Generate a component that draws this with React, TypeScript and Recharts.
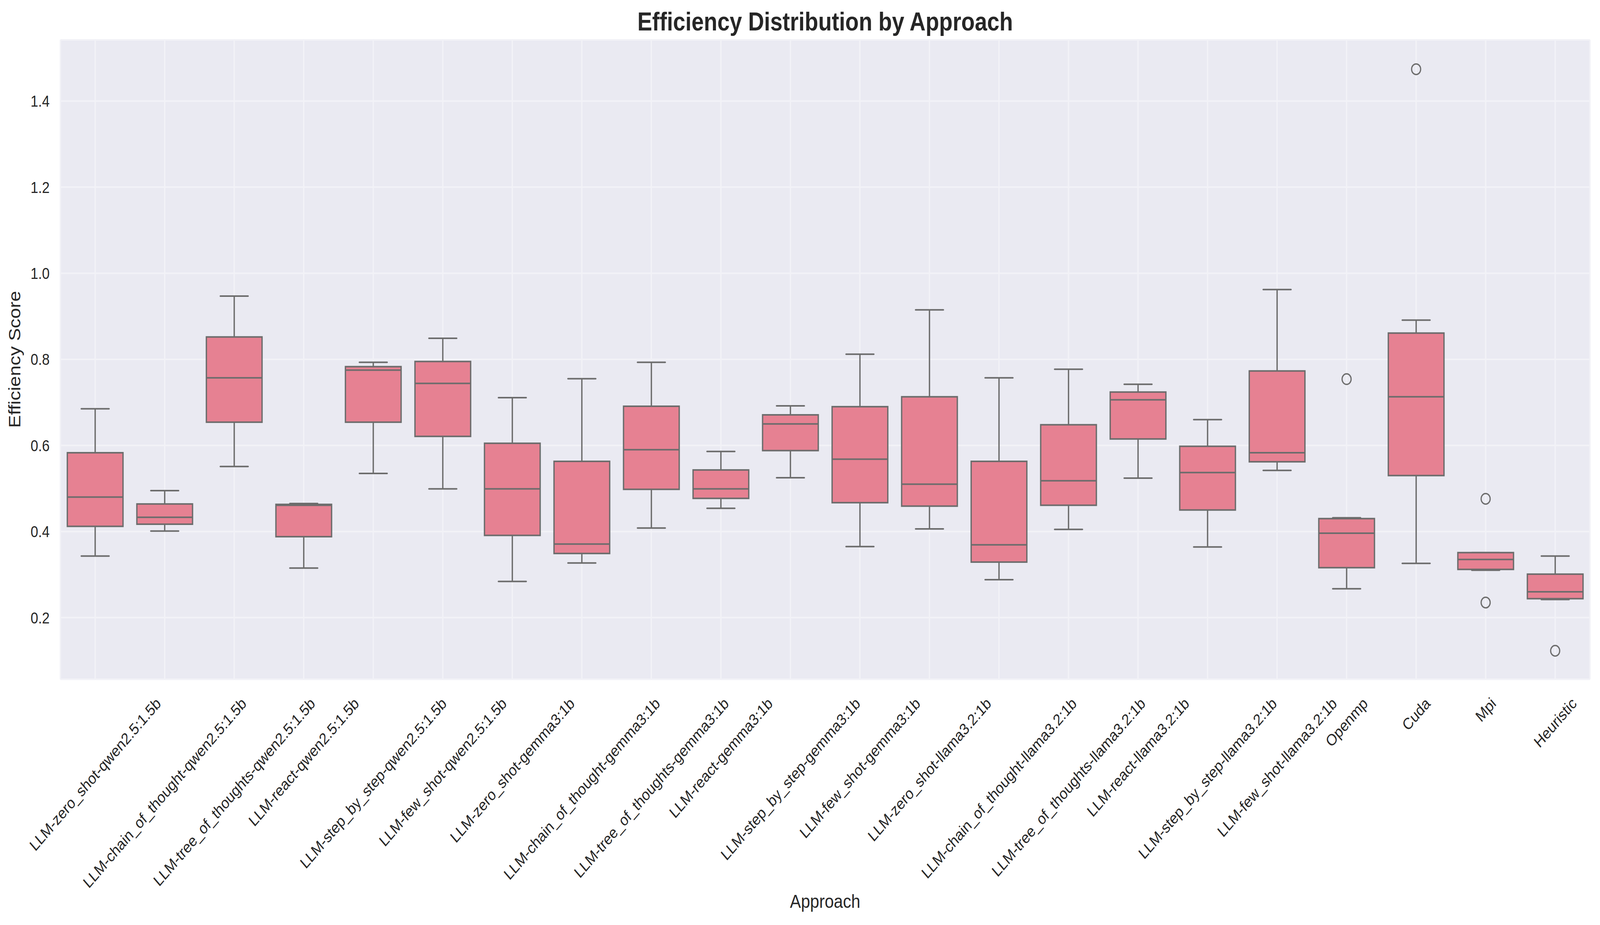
import React from "react";
import { ComposedChart, Bar, Scatter, XAxis, YAxis, CartesianGrid } from "recharts";

const W = 4770;
const H = 2368;
const FONT = '"Liberation Sans", Arial, sans-serif';
const TEXT = "#262626";
const BOX_FILL = "#e68192";
const LINE = "#6c6c6c";

const approaches = [
  "LLM-zero_shot-qwen2.5:1.5b",
  "LLM-chain_of_thought-qwen2.5:1.5b",
  "LLM-tree_of_thoughts-qwen2.5:1.5b",
  "LLM-react-qwen2.5:1.5b",
  "LLM-step_by_step-qwen2.5:1.5b",
  "LLM-few_shot-qwen2.5:1.5b",
  "LLM-zero_shot-gemma3:1b",
  "LLM-chain_of_thought-gemma3:1b",
  "LLM-tree_of_thoughts-gemma3:1b",
  "LLM-react-gemma3:1b",
  "LLM-step_by_step-gemma3:1b",
  "LLM-few_shot-gemma3:1b",
  "LLM-zero_shot-llama3.2:1b",
  "LLM-chain_of_thought-llama3.2:1b",
  "LLM-tree_of_thoughts-llama3.2:1b",
  "LLM-react-llama3.2:1b",
  "LLM-step_by_step-llama3.2:1b",
  "LLM-few_shot-llama3.2:1b",
  "Openmp",
  "Cuda",
  "Mpi",
  "Heuristic",
];

const whiskerLow = [0.343, 0.401, 0.551, 0.315, 0.535, 0.499, 0.284, 0.327, 0.408, 0.454, 0.525, 0.365, 0.406, 0.288, 0.405, 0.524, 0.364, 0.542, 0.267, 0.326, 0.31, 0.242];
const q1 = [0.412, 0.417, 0.654, 0.388, 0.654, 0.621, 0.391, 0.349, 0.498, 0.477, 0.588, 0.467, 0.459, 0.329, 0.461, 0.615, 0.45, 0.562, 0.316, 0.53, 0.312, 0.244];
const median = [0.48, 0.433, 0.757, 0.461, 0.775, 0.744, 0.499, 0.371, 0.59, 0.499, 0.65, 0.568, 0.51, 0.369, 0.518, 0.706, 0.537, 0.583, 0.396, 0.713, 0.335, 0.26];
const q3 = [0.583, 0.464, 0.852, 0.463, 0.783, 0.795, 0.605, 0.563, 0.691, 0.543, 0.671, 0.69, 0.713, 0.563, 0.648, 0.724, 0.598, 0.773, 0.43, 0.861, 0.351, 0.301];
const whiskerHigh = [0.685, 0.495, 0.947, 0.465, 0.793, 0.849, 0.711, 0.755, 0.793, 0.586, 0.692, 0.812, 0.915, 0.757, 0.777, 0.742, 0.66, 0.962, 0.432, 0.891, 0.351, 0.343];
const outlierA = [null, null, null, null, null, null, null, null, null, null, null, null, null, null, null, null, null, null, 0.754, 1.474, 0.476, 0.123];
const outlierB = [null, null, null, null, null, null, null, null, null, null, null, null, null, null, null, null, null, null, null, null, 0.235, null];

const yTicks = [0.2, 0.4, 0.6, 0.8, 1.0, 1.2, 1.4];

const rows = approaches.map((name, i) => ({
  name,
  low: whiskerLow[i],
  q1: q1[i],
  med: median[i],
  q3: q3[i],
  high: whiskerHigh[i],
  outA: outlierA[i],
  outB: outlierB[i],
}));

const ctx = typeof document !== "undefined" ? document.createElement("canvas").getContext("2d") : null;
function textWidth(s: string, font: string) {
  if (!ctx) return s.length * 21;
  ctx.font = font;
  return ctx.measureText(s).width;
}

function BoxShape(props: any) {
  const { x, y, width, height, payload } = props;
  if (!payload || !Number.isFinite(y) || !Number.isFinite(height)) return null;
  const top = Math.min(y, y + height);
  const bottom = Math.max(y, y + height);
  const span = payload.high - payload.low;
  // pixel position of a value, taken from the bar's own scaled extent [low, high]
  const py = (v: number) => top + ((bottom - top) * (payload.high - v)) / span;
  const cx = x + width / 2;
  const cap = width / 4;
  const sw = 4;
  return (
    <g>
      <line x1={cx} x2={cx} y1={py(payload.high)} y2={py(payload.q3)} stroke={LINE} strokeWidth={sw} />
      <line x1={cx} x2={cx} y1={py(payload.q1)} y2={py(payload.low)} stroke={LINE} strokeWidth={sw} />
      <line x1={cx - cap} x2={cx + cap} y1={py(payload.high)} y2={py(payload.high)} stroke={LINE} strokeWidth={sw} strokeLinecap="round" />
      <line x1={cx - cap} x2={cx + cap} y1={py(payload.low)} y2={py(payload.low)} stroke={LINE} strokeWidth={sw} strokeLinecap="round" />
      <rect x={x} y={py(payload.q3)} width={width} height={py(payload.q1) - py(payload.q3)} fill={BOX_FILL} stroke={LINE} strokeWidth={sw} />
      <line x1={x} x2={x + width} y1={py(payload.med)} y2={py(payload.med)} stroke={LINE} strokeWidth={sw} />
    </g>
  );
}

const flier = (key: string) => (props: any) => {
  const { cx, cy, payload } = props;
  if (!payload || payload[key] == null || !Number.isFinite(cx) || !Number.isFinite(cy)) return <g />;
  return <circle cx={cx} cy={cy} r={13.5} fill="none" stroke={LINE} strokeWidth={3.5} />;
};

function XTick(props: any) {
  const { x, y, payload } = props;
  const label = String(payload.value);
  const w = textWidth(label, `41px ${FONT}`);
  const h = 38;
  const cy = y + 41 + ((w + h) * Math.SQRT1_2) / 2;
  return (
    <text x={x} y={cy} dy="0.35em" transform={`rotate(-45 ${x} ${cy})`} textAnchor="middle" fontSize={41} fontFamily={FONT} fill={TEXT}>
      {label}
    </text>
  );
}

export default function App() {
  // the browser may cap the window below 4770 wide; stretch the 4770x2368 layout to fill it
  const vw = typeof window !== "undefined" ? document.documentElement.clientWidth || window.innerWidth : W;
  const vh = typeof window !== "undefined" ? document.documentElement.clientHeight || window.innerHeight : H;
  const sx = vw > 0 && vw < W ? vw / W : 1;
  const sy = vh > 0 && vh < H ? vh / H : 1;
  return (
    <div style={{ width: W * sx, height: H * sy, overflow: "hidden" }}>
      <style>{"html,body{margin:0;padding:0;overflow:hidden;}"}</style>
      <div style={{ position: "relative", width: W, height: H, background: "#fff", transform: `scale(${sx}, ${sy})`, transformOrigin: "0 0" }}>
        <ComposedChart width={W} height={H} data={rows} margin={{ top: 102, right: 30, left: 0, bottom: 0 }} barCategoryGap="10%">
          <CartesianGrid fill="#eaeaf2" stroke="#f2f2f7" strokeWidth={4} />
          <XAxis dataKey="name" type="category" interval={0} height={629} tickLine={false} axisLine={false} tickSize={0} tickMargin={0} tick={<XTick />} />
          <YAxis
            type="number"
            width={180}
            domain={[0.0567, 1.5422]}
            ticks={yTicks}
            allowDataOverflow
            tickLine={false}
            axisLine={false}
            tickSize={0}
            tickMargin={32}
            tickFormatter={(v: number) => v.toFixed(1)}
            tick={{ fontSize: 41, fontFamily: FONT, fill: TEXT }}
          />
          <Bar dataKey={(d: any) => [d.low, d.high]} shape={<BoxShape />} isAnimationActive={false} />
          <Scatter dataKey="outA" shape={flier("outA")} isAnimationActive={false} />
          <Scatter dataKey="outB" shape={flier("outB")} isAnimationActive={false} />
        </ComposedChart>
        <svg width={W} height={H} style={{ position: "absolute", left: 0, top: 0, pointerEvents: "none" }}>
          <text x={2460} y={78} textAnchor="middle" fontSize={66} fontWeight="bold" fontFamily={FONT} fill={TEXT}>
            Efficiency Distribution by Approach
          </text>
          <text x={2460} y={2324} textAnchor="middle" fontSize={49} fontFamily={FONT} fill={TEXT}>
            Approach
          </text>
          <text x={61} y={920} transform="rotate(-90 61 920)" textAnchor="middle" fontSize={49} fontFamily={FONT} fill={TEXT}>
            Efficiency Score
          </text>
        </svg>
      </div>
    </div>
  );
}
